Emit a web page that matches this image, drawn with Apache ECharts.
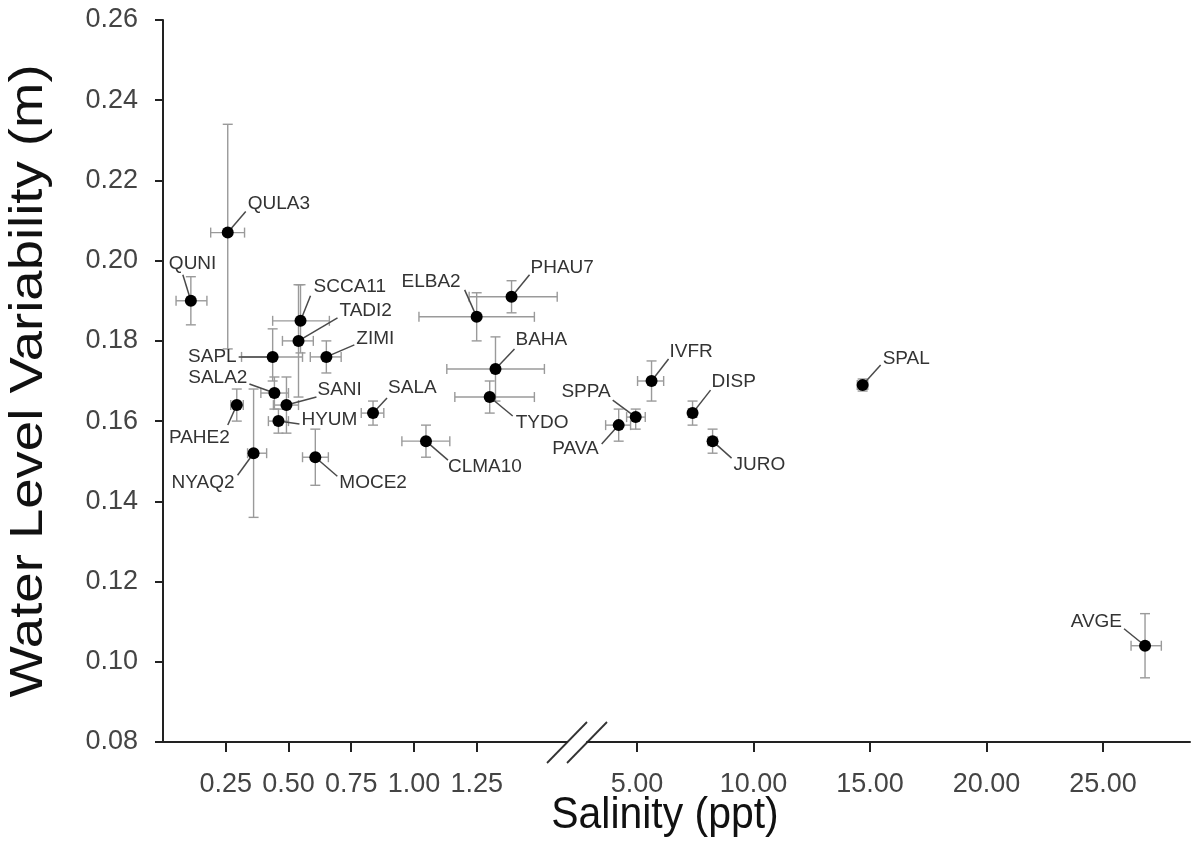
<!DOCTYPE html>
<html><head><meta charset="utf-8">
<script src="https://cdn.jsdelivr.net/npm/echarts@6/dist/echarts.min.js"></script>
<style>html,body{margin:0;padding:0;background:#fff}#c{width:1193px;height:859px}</style>
</head><body><div id="c"></div>
<script>
// ---- data ----
const sites        = ['QUNI','QULA3','SCCA11','TADI2','ZIMI','SAPL','SALA2','SANI','HYUM','PAHE2','NYAQ2','MOCE2','SALA','CLMA10','ELBA2','PHAU7','BAHA','TYDO','PAVA','SPPA','IVFR','DISP','JURO','SPAL','AVGE'];
const salinity     = [0.111,0.258,0.548,0.540,0.651,0.437,0.444,0.492,0.460,0.294,0.361,0.607,0.837,1.048,1.250,1.389,1.325,1.302,4.21,4.94,5.62,7.38,8.24,14.68,26.8];
const salinityLow  = [0.052,0.190,0.437,0.476,0.587,0.313,0.390,0.440,0.420,0.270,0.337,0.556,0.790,0.952,1.020,1.220,1.131,1.163,3.65,4.55,5.02,7.20,8.05,14.45,26.2];
const salinityHigh = [0.175,0.325,0.663,0.599,0.710,0.556,0.500,0.540,0.500,0.320,0.413,0.659,0.880,1.143,1.480,1.571,1.520,1.480,4.72,5.35,6.14,7.56,8.43,14.90,27.5];
const waterLevel   = [0.190,0.207,0.185,0.180,0.176,0.176,0.167,0.164,0.160,0.164,0.152,0.151,0.162,0.155,0.186,0.191,0.173,0.166,0.159,0.161,0.170,0.162,0.155,0.169,0.104];
const waterLow     = [0.184,0.178,0.177,0.166,0.172,0.170,0.163,0.157,0.157,0.160,0.136,0.144,0.159,0.151,0.180,0.187,0.165,0.162,0.155,0.158,0.165,0.159,0.152,0.1675,0.096];
const waterHigh    = [0.196,0.234,0.194,0.194,0.180,0.183,0.171,0.171,0.163,0.168,0.168,0.158,0.165,0.159,0.192,0.195,0.181,0.170,0.163,0.163,0.175,0.165,0.158,0.1705,0.112];
const xTicksLeft   = [0.25,0.50,0.75,1.00,1.25];
const xTicksRight  = [5,10,15,20,25];

// ---- label layout (pixel offsets from the point: text dx, dy, align, leader end lx, ly) ----
const labelLayout = {
  QUNI:[-22,-37,'left',-8,-26], QULA3:[20,-29,'left',18,-21], SCCA11:[13,-34,'left',10,-25],
  TADI2:[41,-30,'left',39,-23], ZIMI:[30,-18,'left',28,-12], SAPL:[-36,0,'right',-34,0],
  SALA2:[-27,-15,'right',-25,-9], SANI:[31,-15,'left',30,-8], HYUM:[23,-1,'left',21,3],
  PAHE2:[-7,33,'right',-9,20], NYAQ2:[-19,30,'right',-16,22], MOCE2:[24,26,'left',22,19],
  SALA:[15,-25,'left',14,-15], CLMA10:[22,26,'left',22,19], ELBA2:[-16,-35,'right',-12,-27],
  PHAU7:[19,-29,'left',18,-22], BAHA:[20,-29,'left',19,-20], TYDO:[26,26,'left',23,19],
  PAVA:[-20,24,'right',-17,19], SPPA:[-25,-25,'right',-23,-17], IVFR:[18,-29,'left',17,-22],
  DISP:[19,-31,'left',18,-23], JURO:[21,24,'left',19,17], SPAL:[20,-26,'left',18,-20],
  AVGE:[-23,-24,'right',-21,-17]
};

const BREAK = 2; // values above this go on the right segment
function rows(right){
  const out=[];
  sites.forEach((s,i)=>{
    if ((salinity[i] > BREAK) === right)
      out.push([salinity[i], waterLevel[i], salinityLow[i], salinityHigh[i], waterLow[i], waterHigh[i], i]);
  });
  return out;
}

const ERR = '#9a9a9a', CAP = 5;
function renderItem(params, api){
  const x=api.value(0), y=api.value(1);
  const p=api.coord([x,y]);
  const xl=api.coord([api.value(2),y]), xh=api.coord([api.value(3),y]);
  const yl=api.coord([x,api.value(4)]), yh=api.coord([x,api.value(5)]);
  const name=sites[api.value(6)];
  const L=labelLayout[name];
  const es={stroke:ERR,lineWidth:1.4};
  const line=(x1,y1,x2,y2,st,z)=>({type:'line',shape:{x1,y1,x2,y2},style:st,z2:z});
  return {type:'group',children:[
    line(xl[0],p[1],xh[0],p[1],es,1),
    line(xl[0],p[1]-CAP,xl[0],p[1]+CAP,es,1),
    line(xh[0],p[1]-CAP,xh[0],p[1]+CAP,es,1),
    line(p[0],yl[1],p[0],yh[1],es,1),
    line(p[0]-CAP,yl[1],p[0]+CAP,yl[1],es,1),
    line(p[0]-CAP,yh[1],p[0]+CAP,yh[1],es,1),
    line(p[0],p[1],p[0]+L[3],p[1]+L[4],{stroke:'#4a4a4a',lineWidth:1.5},2),
    {type:'circle',shape:{cx:p[0],cy:p[1],r:6},style:{fill:'#000'},z2:3},
    {type:'text',x:p[0]+L[0],y:p[1]+L[1],style:{text:name,fill:'#333',fontSize:19,
      fontFamily:'Liberation Sans, Arial, sans-serif',align:L[2],verticalAlign:'middle'},z2:4}
  ]};
}

const FONT='Liberation Sans, Arial, sans-serif';
const axisLine={lineStyle:{color:'#222',width:2}};
const G1={left:163,width:404}, G2={left:587,width:603}, TOP=20, H=722;

const chart=echarts.init(document.getElementById('c'),null,{renderer:'canvas'});
chart.setOption({
  animation:false,
  backgroundColor:'#fff',
  grid:[
    {left:G1.left,top:TOP,width:G1.width,height:H,containLabel:false,outerBoundsMode:'none'},
    {left:G2.left,top:TOP,width:G2.width,height:H,containLabel:false,outerBoundsMode:'none'}
  ],
  xAxis:[
    {type:'value',gridIndex:0,min:0,max:1.61,axisLine,splitLine:{show:false},
     axisTick:{customValues:xTicksLeft,length:10,lineStyle:{color:'#222',width:2}},
     axisLabel:{customValues:xTicksLeft,formatter:v=>v.toFixed(2),fontSize:27,color:'#444',margin:29,fontFamily:FONT}},
    {type:'value',gridIndex:1,min:2.85,max:28.73,axisLine,splitLine:{show:false},
     axisTick:{customValues:xTicksRight,length:10,lineStyle:{color:'#222',width:2}},
     axisLabel:{customValues:xTicksRight,formatter:v=>v.toFixed(2),fontSize:27,color:'#444',margin:29,fontFamily:FONT}}
  ],
  yAxis:[
    {type:'value',gridIndex:0,min:0.08,max:0.26,interval:0.02,axisLine:{show:true,lineStyle:{color:'#222',width:2}},
     splitLine:{show:false},axisTick:{show:true,length:8,lineStyle:{color:'#222',width:2}},
     axisLabel:{formatter:v=>v.toFixed(2),fontSize:27,color:'#444',margin:25,fontFamily:FONT}},
    {type:'value',gridIndex:1,min:0.08,max:0.26,interval:0.02,show:false}
  ],
  series:[
    {type:'custom',xAxisIndex:0,yAxisIndex:0,renderItem,data:rows(false),encode:{x:0,y:1},clip:false},
    {type:'custom',xAxisIndex:1,yAxisIndex:1,renderItem,data:rows(true),encode:{x:0,y:1},clip:false}
  ],
  graphic:[
    {type:'text',x:29,y:381,rotation:Math.PI/2,scaleX:1.16,
     style:{text:'Water Level Variability (m)',fontSize:47,fill:'#111',fontFamily:FONT,align:'center',verticalAlign:'middle'}},
    {type:'text',x:665,y:816,scaleX:0.93,
     style:{text:'Salinity (ppt)',fontSize:44,fill:'#111',fontFamily:FONT,align:'center',verticalAlign:'middle'}},
    {type:'line',shape:{x1:G1.left+G1.width-20,y1:TOP+H+21,x2:G1.left+G1.width+20,y2:TOP+H-20},style:{stroke:'#333',lineWidth:1.8}},
    {type:'line',shape:{x1:G2.left-20,y1:TOP+H+21,x2:G2.left+20,y2:TOP+H-20},style:{stroke:'#333',lineWidth:1.8}}
  ]
});
</script></body></html>
